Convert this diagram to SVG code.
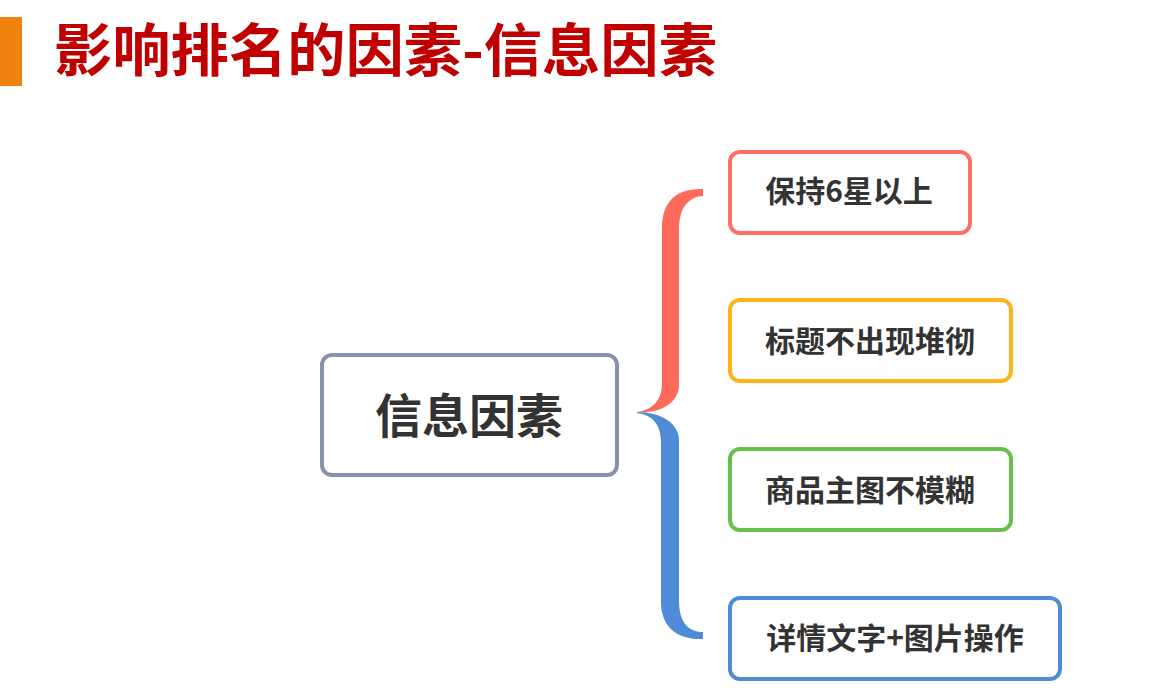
<svg xmlns="http://www.w3.org/2000/svg" width="1152" height="695" viewBox="0 0 1152 695">
<style>
.t{font-family:"Noto Sans CJK SC","Liberation Sans",sans-serif;font-weight:bold;text-anchor:middle;fill:#333333}
.box{fill:#ffffff;stroke-width:4}
</style>
<rect width="1152" height="695" fill="#ffffff"/>
<g id="title">
<rect x="0" y="17" width="22" height="69" fill="#F0820F"/>
<text x="54" y="71" font-family="Noto Sans CJK SC, Liberation Sans, sans-serif" font-weight="bold" font-size="57" fill="#C00000" textLength="663" lengthAdjust="spacingAndGlyphs">影响排名的因素-信息因素</text>
</g>
<g id="connectors">
<path d="M703 189 C676 188 662 202 662 228 L662 383 C662 401 652 410 637 412 C658 414 679 404 679 385 L679 230 C679 208 688 197 703 196 Z" fill="#FF6B5B"/>
<path d="M637 413 C652 415 661 424 661 442 L661 602 C661 626 676 640 703 639 L703 632 C688 632 679 622 679 600 L679 440 C679 424 662 412 637 412 Z" fill="#4F8BD6"/>
</g>
<g id="center">
<rect class="box" x="322" y="355" width="295" height="120" rx="10" stroke="#8593AA"/>
<text class="t" x="469" y="433" font-size="47">信息因素</text>
</g>
<g id="n1">
<rect class="box" x="730" y="152" width="240" height="81" rx="10" stroke="#FF6F61"/>
<text class="t" x="849" y="202" font-size="30">保持6星以上</text>
</g>
<g id="n2">
<rect class="box" x="730" y="300" width="281" height="81" rx="10" stroke="#FFB31A"/>
<text class="t" x="870" y="352" font-size="30">标题不出现堆彻</text>
</g>
<g id="n3">
<rect class="box" x="730" y="449" width="281" height="81" rx="10" stroke="#68BF4C"/>
<text class="t" x="870" y="501" font-size="30">商品主图不模糊</text>
</g>
<g id="n4">
<rect class="box" x="730" y="598" width="330" height="81" rx="10" stroke="#4F8BD6"/>
<text class="t" x="895" y="649" font-size="30">详情文字+图片操作</text>
</g>
</svg>
